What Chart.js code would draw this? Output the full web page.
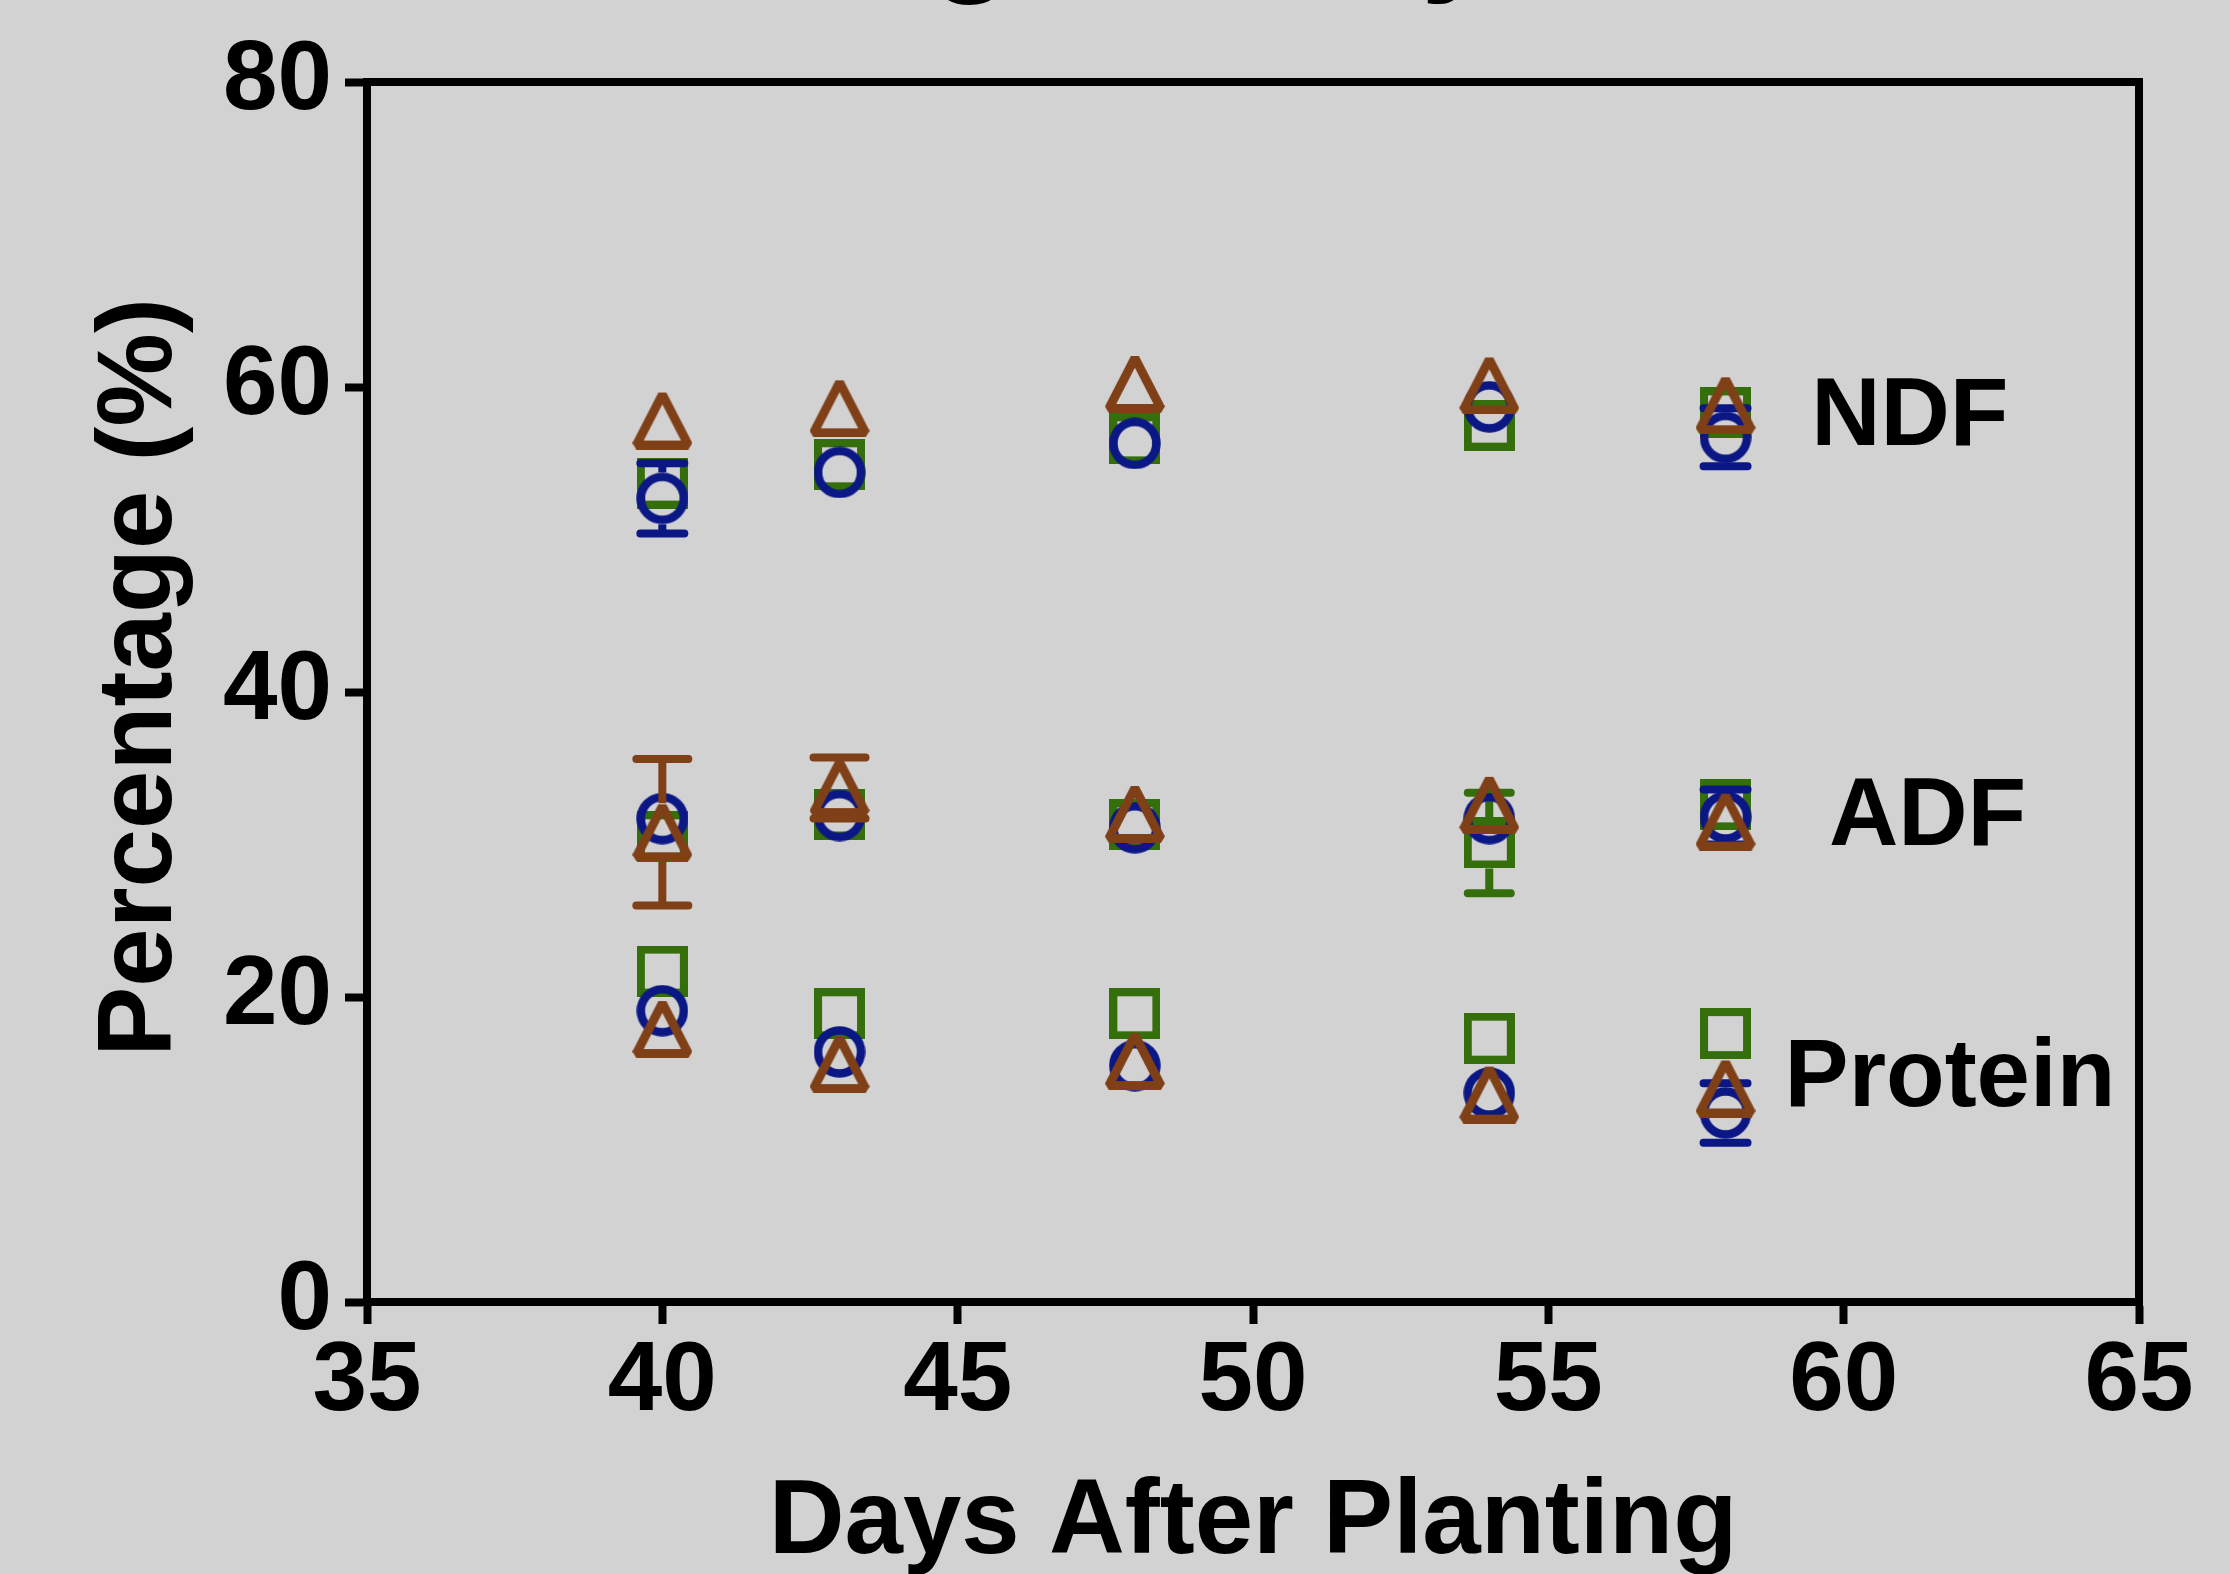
<!DOCTYPE html>
<html>
<head>
<meta charset="utf-8">
<script src="https://cdn.jsdelivr.net/npm/chart.js@4.4.0/dist/chart.umd.min.js"></script>
<style>
  html, body { margin: 0; padding: 0; background: #d2d2d2; }
  canvas { display: block; }
</style>
</head>
<body>
<canvas id="qualityChart" width="2230" height="1574"></canvas>
<script>
var days = [40, 43, 48, 54, 58];
var groupLabels = ['NDF', 'ADF', 'Protein'];
var xTicks = [35, 40, 45, 50, 55, 60, 65];
var yTicks = [0, 20, 40, 60, 80];

// green squares
var ndfSquare = [53.7, 54.9, 56.6, 57.5, 58.3];
var adfSquare = [30.5, 32.0, 31.3, 30.1, 32.6];
var proteinSquare = [21.7, 18.9, 18.9, 17.3, 17.6];
var ndfSquareErr = [0, 0, 0, 0, 0];
var adfSquareErr = [0, 0, 0, 3.3, 0];
var proteinSquareErr = [0, 0, 0, 0, 0];

// blue circles
var ndfCircle = [52.7, 54.4, 56.3, 58.7, 56.7];
var adfCircle = [31.7, 31.9, 31.1, 31.7, 31.8];
var proteinCircle = [19.1, 16.4, 15.5, 13.7, 12.4];
var ndfCircleErr = [2.3, 0, 0, 0, 1.9];
var adfCircleErr = [0, 0, 0, 0, 1.8];
var proteinCircleErr = [0, 0, 0, 0, 1.95];

// brown triangles
var ndfTriangle = [57.8, 58.6, 60.2, 60.1, 58.8];
var adfTriangle = [30.8, 33.7, 32.0, 32.6, 31.5];
var proteinTriangle = [17.9, 15.6, 15.8, 13.6, 14.0];
var ndfTriangleErr = [0, 0, 0, 0, 0];
var adfTriangleErr = [4.8, 2.0, 0, 0, 0];
var proteinTriangleErr = [0, 0, 0, 0, 0];

var green = '#356f0c';
var blue = '#0b1785';
var brown = '#7f3f17';

function points(ndf, adf, protein) {
    var out = [];
    [ndf, adf, protein].forEach(function (arr) {
        arr.forEach(function (v, i) { out.push({ x: days[i], y: v }); });
    });
    return out;
}

function makeMarker(shape, color) {
    var c = document.createElement('canvas');
    if (shape === 'square') { c.width = 51; c.height = 51; }
    if (shape === 'circle') { c.width = 52; c.height = 52; }
    if (shape === 'triangle') { c.width = 60; c.height = 58; }
    var g = c.getContext('2d');
    g.strokeStyle = color;
    if (shape === 'square') {
        g.lineWidth = 8;
        g.strokeRect(4, 4, 43, 43);
    } else if (shape === 'circle') {
        g.lineWidth = 8.5;
        g.beginPath();
        g.arc(26, 26, 21.5, 0, Math.PI * 2);
        g.stroke();
    } else {
        g.lineWidth = 9;
        g.lineJoin = 'bevel';
        g.beginPath();
        g.moveTo(30, 3);
        g.lineTo(4, 53.5);
        g.lineTo(56, 53.5);
        g.closePath();
        g.stroke();
    }
    return c;
}

var errorBars = {
    id: 'errorBars',
    afterDatasetDraw: function (chart, args) {
        var ds = chart.data.datasets[args.index];
        var yScale = chart.scales.y;
        var ctx = chart.ctx;
        var half = ds.pointStyle.height / 2;
        var capHalf = ds.pointStyle.width / 2 - 4;
        ctx.save();
        ctx.strokeStyle = ds.borderColor;
        ctx.lineWidth = 8;
        args.meta.data.forEach(function (pt, i) {
            var err = ds.errors[i];
            if (!err) return;
            var v = ds.data[i].y;
            var yt = yScale.getPixelForValue(v + err);
            var yb = yScale.getPixelForValue(v - err);
            ctx.lineCap = 'butt';
            ctx.beginPath();
            if (yt < pt.y - half) { ctx.moveTo(pt.x, yt); ctx.lineTo(pt.x, pt.y - half); }
            if (yb > pt.y + half) { ctx.moveTo(pt.x, pt.y + half); ctx.lineTo(pt.x, yb); }
            ctx.stroke();
            ctx.lineCap = 'round';
            ctx.beginPath();
            ctx.moveTo(pt.x - capHalf, yt); ctx.lineTo(pt.x + capHalf, yt);
            ctx.moveTo(pt.x - capHalf, yb); ctx.lineTo(pt.x + capHalf, yb);
            ctx.stroke();
        });
        ctx.restore();
    }
};

var frameAndText = {
    id: 'frameAndText',
    beforeDraw: function (chart) {
        var ctx = chart.ctx;
        ctx.save();
        ctx.fillStyle = '#d2d2d2';
        ctx.fillRect(0, 0, chart.width, chart.height);
        ctx.restore();
    },
    beforeDatasetsDraw: function (chart) {
        var a = chart.chartArea;
        var ctx = chart.ctx;
        ctx.save();
        ctx.strokeStyle = '#000';
        ctx.lineWidth = 8;
        ctx.lineJoin = 'miter';
        ctx.strokeRect(a.left, a.top, a.right - a.left, a.bottom - a.top);
        ctx.restore();
    },
    afterDraw: function (chart) {
        var ctx = chart.ctx;
        var xs = chart.scales.x, ys = chart.scales.y;
        ctx.save();
        ctx.fillStyle = '#000';
        // title sits above the page, only the descenders show
        ctx.font = 'bold 136px "Liberation Sans", Arial, sans-serif';
        ctx.textAlign = 'left';
        ctx.textBaseline = 'alphabetic';
        var tx = 971 - ctx.measureText('Fora').width - ctx.measureText('g').width / 2;
        ctx.fillText('Forage Analysis', tx, -24);
        // group labels
        ctx.font = 'bold 96px "Liberation Sans", Arial, sans-serif';
        var spots = [[59.45, 56.2], [59.75, 30.0], [59.0, 12.85]];
        groupLabels.forEach(function (t, i) {
            ctx.fillText(t, xs.getPixelForValue(spots[i][0]), ys.getPixelForValue(spots[i][1]));
        });
        ctx.restore();
    }
};

function makeSet(label, color, shape, ndf, adf, protein, errs) {
    return {
        label: label,
        data: points(ndf, adf, protein),
        errors: [].concat(errs[0], errs[1], errs[2]),
        borderColor: color,
        backgroundColor: color,
        pointStyle: makeMarker(shape, color),
        pointRadius: 25,
        showLine: false
    };
}

document.addEventListener('DOMContentLoaded', function () {
    var ctx = document.getElementById('qualityChart').getContext('2d');
    var tickFont = { family: '"Liberation Sans", Arial, sans-serif', size: 98, weight: 'bold' };
    var titleFont = { family: '"Liberation Sans", Arial, sans-serif', size: 105, weight: 'bold', lineHeight: 0.96 };
    var qualityChart = new Chart(ctx, {
        type: 'scatter',
        data: {
            datasets: [
                makeSet('Triangle', brown, 'triangle', ndfTriangle, adfTriangle, proteinTriangle,
                    [ndfTriangleErr, adfTriangleErr, proteinTriangleErr]),
                makeSet('Circle', blue, 'circle', ndfCircle, adfCircle, proteinCircle,
                    [ndfCircleErr, adfCircleErr, proteinCircleErr]),
                makeSet('Square', green, 'square', ndfSquare, adfSquare, proteinSquare,
                    [ndfSquareErr, adfSquareErr, proteinSquareErr])
            ]
        },
        options: {
            responsive: false,
            devicePixelRatio: 1,
            animation: false,
            events: [],
            layout: { padding: { left: 0, top: 82, right: 91, bottom: 0 } },
            plugins: {
                legend: { display: false },
                tooltip: { enabled: false }
            },
            scales: {
                x: {
                    type: 'linear',
                    min: 35,
                    max: 65,
                    afterBuildTicks: function (axis) {
                        axis.ticks = xTicks.map(function (v) { return { value: v }; });
                    },
                    afterFit: function (scale) { scale.height = 272; },
                    border: { display: true, color: '#000', width: 8 },
                    grid: { drawOnChartArea: false, tickLength: 22, tickWidth: 8, tickColor: '#000' },
                    ticks: { color: '#000', font: tickFont, padding: 0, maxRotation: 0, autoSkip: false },
                    title: {
                        display: true, text: 'Days After Planting', color: '#000',
                        font: titleFont, padding: { top: 0, bottom: 0 }
                    }
                },
                y: {
                    min: 0,
                    max: 80,
                    afterBuildTicks: function (axis) {
                        axis.ticks = yTicks.map(function (v) { return { value: v }; });
                    },
                    afterFit: function (scale) { scale.width = 367; },
                    border: { display: true, color: '#000', width: 8 },
                    grid: { drawOnChartArea: false, tickLength: 22, tickWidth: 8, tickColor: '#000' },
                    ticks: { color: '#000', font: tickFont, padding: 13, autoSkip: false },
                    title: {
                        display: true, text: ' Percentage (%)', color: '#000',
                        font: titleFont, padding: { top: 92, bottom: 92 }
                    }
                }
            }
        },
        plugins: [errorBars, frameAndText]
    });
});
</script>
</body>
</html>
